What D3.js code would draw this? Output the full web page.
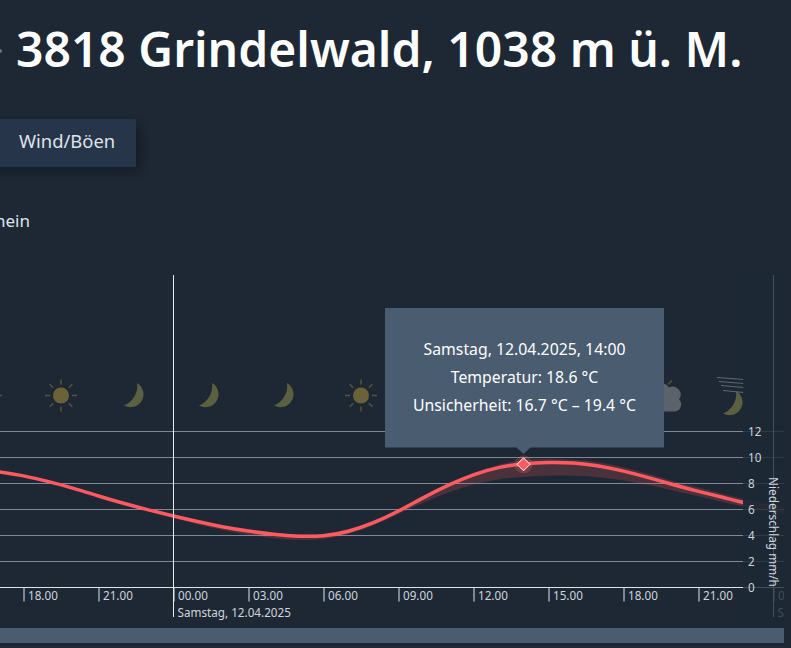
<!DOCTYPE html>
<html>
<head>
<meta charset="utf-8">
<script src="https://cdn.jsdelivr.net/npm/d3@7"></script>
<style>
html, body { margin: 0; padding: 0; background: #1d2834; overflow: hidden; }
text { font-family: "Noto Sans", sans-serif; }
</style>
</head>
<body>
<script>
//hours counted from Saturday 00:00
var hours = [-8, -7, -6, -5, -4, -3, -2, -1, 0, 1, 2, 3, 4, 5, 6, 7, 8, 9, 10, 11, 12, 13, 14, 15, 16, 17, 18, 19, 20, 21, 22, 23, 24, 25];
var temperature = [18.0, 17.5, 16.9, 16.0, 15.0, 13.8, 12.7, 11.7, 10.8, 9.9, 9.1, 8.5, 8.0, 7.7, 7.7, 8.4, 9.7, 11.5, 13.6, 15.5, 17.1, 18.2, 18.7, 18.9, 18.85, 18.4, 17.6, 16.6, 15.5, 14.5, 13.6, 12.6, 11.9, 11.5];
var tempLow = [17.9, 17.4, 16.8, 15.9, 14.9, 13.7, 12.6, 11.5, 10.5, 9.5, 8.6, 7.9, 7.4, 7.1, 7.2, 8.0, 9.3, 11.1, 12.9, 14.4, 15.6, 16.4, 16.7, 16.9, 16.9, 16.7, 16.2, 15.5, 14.6, 13.8, 12.9, 12.0, 11.2, 10.9];
var tempHigh = [18.1, 17.6, 17.0, 16.1, 15.1, 13.9, 12.8, 11.8, 11.0, 10.1, 9.3, 8.7, 8.2, 8.0, 8.0, 8.8, 10.0, 11.8, 13.9, 15.8, 17.4, 18.6, 19.4, 19.4, 19.3, 19.0, 18.2, 17.2, 16.0, 15.1, 14.1, 13.1, 12.5, 12.1];

var tickHours = [-9, -6, -3, 0, 3, 6, 9, 12, 15, 18, 21, 24];
var tickLabels = ["15.00", "18.00", "21.00", "00.00", "03.00", "06.00", "09.00", "12.00", "15.00", "18.00", "21.00", "00.00"];
var dayHours = [0, 24];
var dayLabels = ["Samstag, 12.04.2025", "Sonntag, 13.04.2025"];
var rainTicks = [0, 2, 4, 6, 8, 10, 12];

var iconHours = [-7.5, -4.5, -1.5, 1.5, 4.5, 7.5, 10.5, 13.5, 16.5, 19.5, 22.5];
var iconTypes = ["sun", "sun", "moon", "moon", "moon", "sun", "sun", "sun", "sun", "cloud", "windmoon"];

var tipLines = ["Samstag, 12.04.2025, 14:00", "Temperatur: 18.6 °C", "Unsicherheit: 16.7 °C – 19.4 °C"];
var tipHour = 14, tipTemp = 18.6;

var width = 791,
    height = 648;

var svg = d3.select("body")
    .append("svg")
    .attr("width", width)
    .attr("height", height)
    .style("display", "block");

var defs = svg.append("defs");
defs.append("clipPath").attr("id", "plot")
    .append("rect").attr("x", 0).attr("y", 270).attr("width", 784).attr("height", 360);
defs.append("clipPath").attr("id", "lineclip")
    .append("rect").attr("x", 0).attr("y", 270).attr("width", 743).attr("height", 360);
var shadow = defs.append("filter").attr("id", "shadow")
    .attr("x", "-20%").attr("y", "-30%").attr("width", "150%").attr("height", "170%");
shadow.append("feDropShadow").attr("dx", 5).attr("dy", 5).attr("stdDeviation", 6)
    .attr("flood-color", "#000").attr("flood-opacity", 0.3);

//page heading and the cut off controls
svg.append("circle").attr("cx", 0).attr("cy", 51).attr("r", 2).attr("fill", "#66727f");
svg.append("text").attr("x", 16).attr("y", 67)
    .attr("font-size", 48).attr("font-weight", 600).attr("fill", "#fff")
    .text("3818 Grindelwald, 1038 m ü. M.");
svg.append("rect").attr("x", -20).attr("y", 119).attr("width", 156).attr("height", 48)
    .attr("fill", "#25344a").attr("filter", "url(#shadow)");
svg.append("text").attr("x", 19).attr("y", 148)
    .attr("font-size", 18.4).attr("fill", "#dfe4ea").text("Wind/Böen");
svg.append("text").attr("x", 30).attr("y", 227).attr("text-anchor", "end")
    .attr("font-size", 17).attr("fill", "#dfe4ea").text("Sonnenschein");

//scales
var x = d3.scaleLinear().domain([0, 24]).range([173.5, 773.5]);
var yRain = d3.scaleLinear().domain([0, 12]).range([587.5, 431.5]);
var yTemp = d3.scaleLinear().domain([0, 18.6]).range([587.5, 464.3]);

var chart = svg.append("g").attr("clip-path", "url(#plot)");

//horizontal grid
chart.append("g").selectAll("line")
    .data(rainTicks.slice(1))
    .enter().append("line")
    .attr("x1", 0).attr("x2", 784)
    .attr("y1", function(d){ return yRain(d); })
    .attr("y2", function(d){ return yRain(d); })
    .attr("stroke", "#7d8a99").attr("stroke-width", 1);

//weather icons
var icons = chart.append("g").selectAll("g")
    .data(iconHours)
    .enter().append("g")
    .attr("transform", function(d){ return "translate(" + x(d) + ",395.5)"; })
    .each(function(d, i){ drawIcon(d3.select(this), iconTypes[i]); });

function drawIcon(g, type){
    var sunCol = "#6b6238", moonCol = "#5b6040", rayCol = "#55553a";
    if (type == "sun"){
        g.append("circle").attr("r", 8).attr("fill", sunCol);
        d3.range(8).forEach(function(k){
            var a = k * Math.PI / 4;
            g.append("line")
                .attr("x1", 11 * Math.cos(a)).attr("y1", 11 * Math.sin(a))
                .attr("x2", 16 * Math.cos(a)).attr("y2", 16 * Math.sin(a))
                .attr("stroke", rayCol).attr("stroke-width", 1.5);
        });
    }
    if (type == "moon" || type == "windmoon"){
        g.append("path")
            .attr("d", "M1,-12.5 A12.5,12.5 0 1 1 -12,10 A21,21 0 0 0 1,-12.5 Z")
            .attr("fill", moonCol)
            .attr("transform", type == "windmoon" ? "translate(-1,8)" : null);
    }
    if (type == "windmoon"){
        [-17, -13, -9, -4].forEach(function(dy, k){
            g.append("line")
                .attr("x1", -19 + k * 2).attr("x2", 8)
                .attr("y1", dy - 1).attr("y2", dy + 1)
                .attr("stroke", "#5f6774").attr("stroke-width", 1.2);
        });
    }
    if (type == "cloud"){
        g.append("path")
            .attr("d", "M-12,16 A9,9 0 0 1 -10,-2 A10,10 0 0 1 8,-8 A8,8 0 0 1 18,4 A7,7 0 0 1 13,16 Z")
            .attr("fill", "#5c626a");
        g.append("line").attr("x1", 7).attr("y1", -11).attr("x2", 11).attr("y2", -15)
            .attr("stroke", rayCol).attr("stroke-width", 1.5);
    }
}

//uncertainty band and temperature line
var curve = d3.curveBasis;
var band = d3.area()
    .x(function(d, i){ return x(hours[i]); })
    .y0(function(d, i){ return yTemp(tempLow[i]); })
    .y1(function(d, i){ return yTemp(tempHigh[i]); })
    .curve(curve);
var line = d3.line()
    .x(function(d, i){ return x(hours[i]); })
    .y(function(d){ return yTemp(d); })
    .curve(curve);

chart.append("path").datum(temperature)
    .attr("d", band).attr("fill", "#ff5a60").attr("fill-opacity", 0.2);
chart.append("path").datum(temperature)
    .attr("d", line).attr("fill", "none")
    .attr("stroke", "#ff5a60").attr("stroke-width", 3.5)
    .attr("clip-path", "url(#lineclip)");

//time axis
var xAxis = d3.axisBottom(x)
    .tickValues(tickHours)
    .tickSize(14)
    .tickFormat(function(d, i){ return tickLabels[i]; });
var xG = chart.append("g").attr("transform", "translate(0,587.5)").call(xAxis);
xG.select(".domain").remove();
xG.selectAll("line").attr("stroke", "#dfe4ea");
xG.selectAll("text")
    .attr("text-anchor", "start").attr("x", 4).attr("y", 4).attr("dy", "0.71em")
    .attr("fill", "#cfd5dc").attr("font-size", 11.7).attr("font-family", "'Noto Sans', sans-serif");
chart.append("line").attr("x1", 0).attr("x2", 784)
    .attr("y1", yRain(0)).attr("y2", yRain(0))
    .attr("stroke", "#dfe4ea").attr("stroke-width", 1);

//day separators and labels
chart.append("g").selectAll("line")
    .data(dayHours)
    .enter().append("line")
    .attr("x1", function(d){ return x(d); })
    .attr("x2", function(d){ return x(d); })
    .attr("y1", 275).attr("y2", 617)
    .attr("stroke", "#e8ebef").attr("stroke-width", 1);
chart.append("g").selectAll("text")
    .data(dayHours)
    .enter().append("text")
    .attr("x", function(d){ return x(d) + 4; })
    .attr("y", 617)
    .attr("font-size", 11.7).attr("fill", "#cfd5dc")
    .text(function(d, i){ return dayLabels[i]; });

//everything past the current range is dimmed
svg.append("rect").attr("x", 743).attr("y", 270).attr("width", 41).attr("height", 355)
    .attr("fill", "#1d2834").attr("fill-opacity", 0.8);

//rain axis
var rainAxis = d3.axisRight(yRain).tickValues(rainTicks).tickSize(0);
var rainG = svg.append("g").attr("transform", "translate(748,0)").call(rainAxis);
rainG.select(".domain").remove();
rainG.selectAll("text").attr("x", 0).attr("fill", "#cfd5dc")
    .attr("font-size", 11.7).attr("font-family", "'Noto Sans', sans-serif");
svg.append("text")
    .attr("transform", "translate(769,532) rotate(90)")
    .attr("text-anchor", "middle")
    .attr("font-size", 11.8).attr("fill", "#cfd5dc")
    .text("Niederschlag mm/h");

//scrollbar
svg.append("rect").attr("x", 0).attr("y", 628).attr("width", 784).attr("height", 15)
    .attr("fill", "#4a5c70");

//tooltip with marker
var tx = x(tipHour), ty = yTemp(tipTemp);
svg.append("circle").attr("cx", tx).attr("cy", ty).attr("r", 9)
    .attr("fill", "#ff5a60").attr("fill-opacity", 0.25);
svg.append("path")
    .attr("d", "M" + tx + "," + (ty - 6.5) + "L" + (tx + 6.5) + "," + ty + "L" + tx + "," + (ty + 6.5) + "L" + (tx - 6.5) + "," + ty + "Z")
    .attr("fill", "#ff5a60").attr("stroke", "#fff").attr("stroke-width", 1);
svg.append("path")
    .attr("d", "M385,308H664V447.5H" + (tx + 7) + "L" + tx + ",454L" + (tx - 7) + ",447.5H385Z")
    .attr("fill", "#4a5c70");
svg.append("g").selectAll("text")
    .data(tipLines)
    .enter().append("text")
    .attr("x", 524.5)
    .attr("y", function(d, i){ return 355 + i * 28; })
    .attr("text-anchor", "middle")
    .attr("font-size", 15.8).attr("fill", "#fff")
    .text(function(d){ return d; });
</script>
</body>
</html>
